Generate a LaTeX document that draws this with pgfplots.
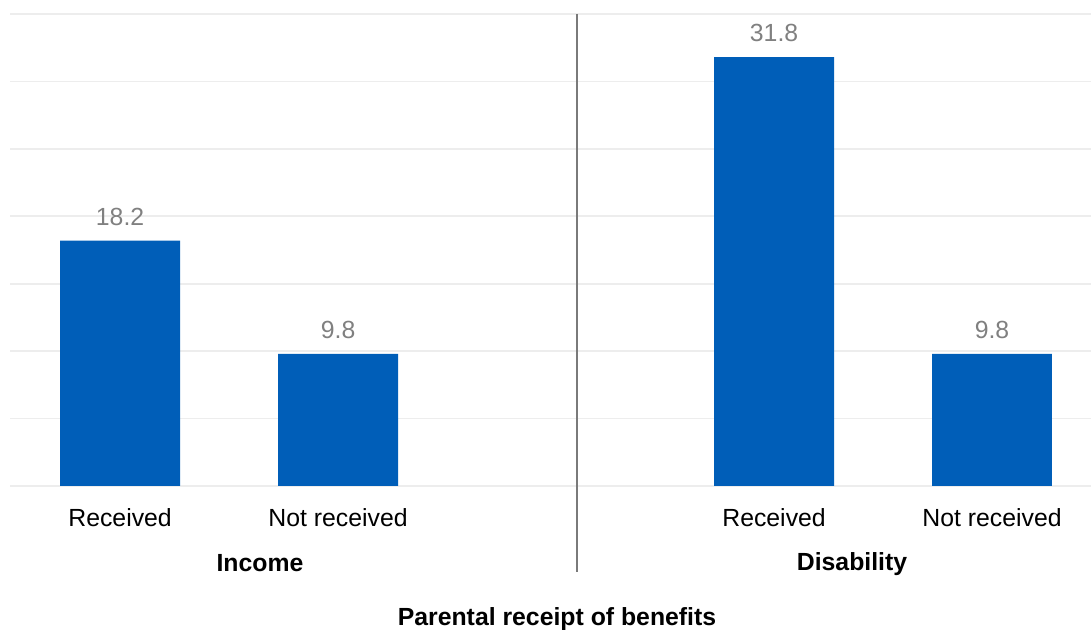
\documentclass[border=0pt]{standalone}
\usepackage{pgfplots}
\pgfplotsset{compat=1.18}
\usepackage{fontspec}
\setmainfont{Liberation Sans}
\definecolor{barblue}{HTML}{005EB8}
\definecolor{lblgray}{HTML}{808080}
\definecolor{gridc}{HTML}{EDEDED}
\definecolor{sepc}{HTML}{7A7A7A}
\begin{document}
\begin{tikzpicture}
\useasboundingbox (-5pt,-72pt) rectangle (540.5pt,243pt);
\begin{axis}[
  at={(0,0)}, anchor=south west,
  scale only axis,
  width=540.5pt, height=236pt,
  xmin=-0.505, xmax=4.454,
  ymin=0, ymax=35,
  axis line style={draw=none},
  tick style={draw=none},
  ytick={0,5,...,35},
  ymajorgrids,
  grid style={gridc, line width=0.8pt},
  xtick={0,1,3,4},
  xticklabels={Received,Not received,Received,Not received},
  major tick length=0pt,
  xticklabel style={font=\fontsize{12.4}{14}\selectfont, text=black, yshift=-7.5pt},
  yticklabels={},
  bar width=0.55,
  clip=false,
  nodes near coords,
  nodes near coords style={font=\fontsize{12.4}{14}\selectfont, text=lblgray, anchor=south, yshift=4pt},
  point meta=explicit symbolic,
]
\addplot[ybar, fill=barblue, draw=none] coordinates {(0,18.2)[18.2] (1,9.8)[9.8] (3,31.8)[31.8] (4,9.8)[9.8]};
\draw[sepc, line width=1pt] (axis cs:2.096,35) -- (axis cs:2.096,-6.38);
\end{axis}
\node[font=\bfseries\fontsize{12.4}{14}\selectfont] at (125pt,-38.5pt) {Income};
\node[font=\bfseries\fontsize{12.4}{14}\selectfont] at (421pt,-39pt) {Disability};
\node[font=\bfseries\fontsize{12.4}{14}\selectfont] at (273.5pt,-66.5pt) {Parental receipt of benefits};
\end{tikzpicture}
\end{document}
